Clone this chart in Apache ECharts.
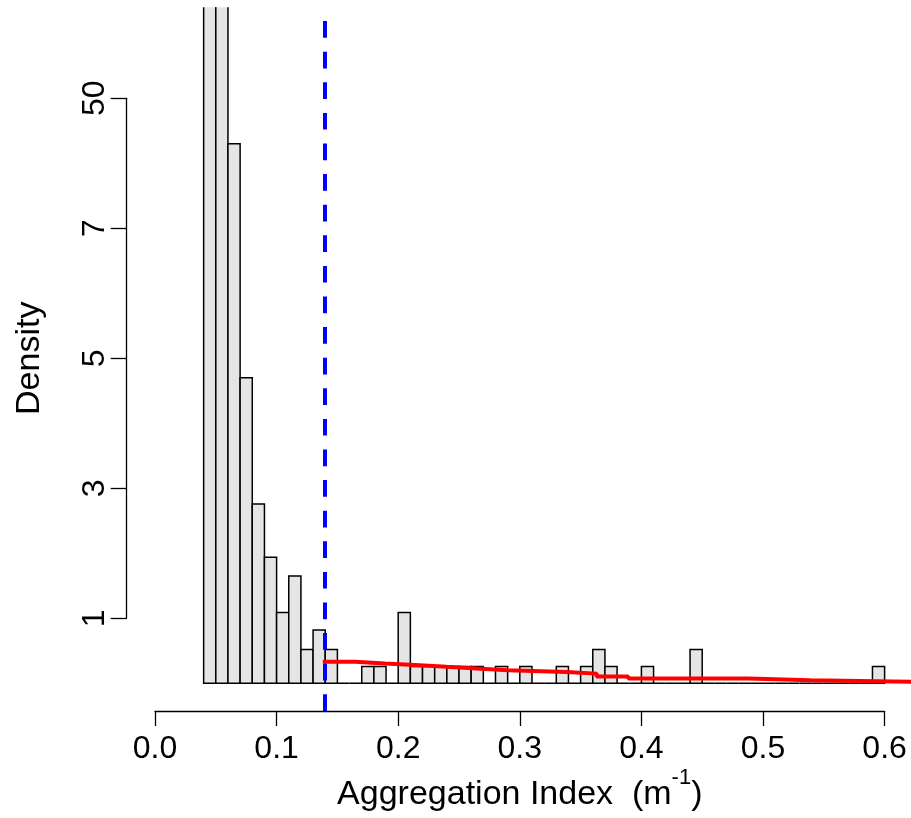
<!DOCTYPE html>
<html><head><meta charset="utf-8">
<script src="https://cdn.jsdelivr.net/npm/echarts@6/dist/echarts.min.js"></script>
<style>html,body{margin:0;padding:0;background:#fff}#c{width:911px;height:818px}</style>
</head><body><div id="c"></div>
<script>
// ---- data ----
const binWidth = 0.01;
const binStarts = [0.04,0.05,0.06,0.07,0.08,0.09,0.10,0.11,0.12,0.13,0.14,0.15,0.16,0.17,0.18,0.19,
  0.20,0.21,0.22,0.23,0.24,0.25,0.26,0.27,0.28,0.29,0.30,0.31,0.32,0.33,0.34,0.35,0.36,0.37,0.38,0.39,
  0.40,0.41,0.42,0.43,0.44,0.45,0.46,0.47,0.48,0.49,0.50,0.51,0.52,0.53,0.54,0.55,0.56,0.57,0.58,0.59];
// bar heights in (broken) axis units
const barHeights = [12,12,8.30,4.70,2.76,1.94,1.09,1.65,0.52,0.82,0.52,0,0,0.26,0.26,0,
  1.09,0.26,0.26,0.26,0.26,0.26,0.26,0,0.26,0,0.26,0,0,0.26,0,0.26,0.52,0.26,0,0,
  0.26,0,0,0,0.52,0,0,0,0,0,0,0,0,0,0,0,0,0,0,0.26];
// red step curve
const stepX = [0.138,0.1645,0.1891,0.2138,0.2399,0.2646,0.2903,0.3386,0.3632,0.3892,0.4879,0.5387,0.63];
const stepY = [0.332,0.305,0.282,0.254,0.228,0.202,0.174,0.149,0.105,0.074,0.046,0.020,0.020];
// threshold (blue dashed)
const thresholdX = 0.138;
// axes
const yTickValues = [1,3,5,7,9];
const yTickLabels = ['1','3','5','7','50'];
const xTickValues = [0,0.1,0.2,0.3,0.4,0.5,0.6];
const xTickLabels = ['0.0','0.1','0.2','0.3','0.4','0.5','0.6'];

const FONT = "'Liberation Sans', Arial, sans-serif";
const FS = 32;
const FS_TITLE = 34;

const barData = binStarts.map((s, i) => [s, +(s + binWidth).toFixed(4), barHeights[i]]);
const stepData = stepX.map((x, i) => [x, stepY[i]]);

const chart = echarts.init(document.getElementById('c'), null, {renderer: 'canvas'});
chart.setOption({
  animation: false,
  backgroundColor: '#ffffff',
  textStyle: {fontFamily: FONT, color: '#000'},
  grid: [
    {left: 155, right: 0, top: 7.3, bottom: 107, containLabel: false, outerBoundsMode: 'none'},
    {left: 126.7, width: 10, top: 98.3, height: 520, containLabel: false, outerBoundsMode: 'none'},
    {left: 155, width: 729.6, top: 650, bottom: 107, containLabel: false, outerBoundsMode: 'none'}
  ],
  xAxis: [
    {gridIndex: 0, type: 'value', min: 0, max: 0.6217, show: false},
    {gridIndex: 1, type: 'value', min: 0, max: 1, show: false},
    {gridIndex: 2, type: 'value', min: 0, max: 0.6, interval: 0.1,
      splitLine: {show: false},
      axisLine: {show: true, lineStyle: {color: '#000', width: 1.3}},
      axisTick: {show: true, length: 15, lineStyle: {color: '#000', width: 1.3}},
      axisLabel: {show: true, margin: 22, fontSize: FS, fontFamily: FONT, color: '#000',
        formatter: v => { const i = xTickValues.findIndex(t => Math.abs(t - v) < 1e-9); return i >= 0 ? xTickLabels[i] : ''; }},
      name: 'Aggregation Index  (m{sup|-1})',
      nameLocation: 'middle', nameGap: 56,
      nameTextStyle: {fontSize: FS_TITLE, fontFamily: FONT, color: '#000', lineHeight: 56,
        rich: {sup: {fontSize: 22, fontFamily: FONT, color: '#000', verticalAlign: 'top', lineHeight: 22}}}
    }
  ],
  yAxis: [
    {gridIndex: 0, type: 'value', min: -0.426, max: 10.4, show: false},
    {gridIndex: 1, type: 'value', min: 1, max: 9, interval: 2,
      splitLine: {show: false},
      axisLine: {show: true, lineStyle: {color: '#000', width: 1.3}},
      axisTick: {show: true, length: 16, lineStyle: {color: '#000', width: 1.3}},
      axisLabel: {show: true, rotate: 90, margin: 16, fontSize: FS, fontFamily: FONT, color: '#000',
        formatter: v => { const i = yTickValues.indexOf(v); return i >= 0 ? yTickLabels[i] : ''; }},
      name: 'Density', nameLocation: 'middle', nameGap: 80,
      nameTextStyle: {fontSize: FS_TITLE, fontFamily: FONT, color: '#000'}
    },
    {gridIndex: 2, type: 'value', min: 0, max: 1, show: false}
  ],
  series: [
    {
      type: 'custom', xAxisIndex: 0, yAxisIndex: 0, clip: true, silent: true,
      data: barData,
      encode: {x: [0, 1], y: 2},
      renderItem: function (params, api) {
        const p0 = api.coord([api.value(0), 0]);
        const p1 = api.coord([api.value(1), api.value(2)]);
        return {
          type: 'rect',
          shape: {x: p0[0], y: p1[1], width: p1[0] - p0[0], height: p0[1] - p1[1]},
          style: {fill: '#e5e5e5', stroke: '#000', lineWidth: 1.5}
        };
      },
      z: 2
    },
    {
      type: 'line', xAxisIndex: 0, yAxisIndex: 0, step: 'end', symbol: 'none', silent: true,
      data: stepData, clip: true,
      lineStyle: {color: '#ff0000', width: 4},
      z: 4,
      markLine: {
        silent: true, symbol: ['none', 'none'], label: {show: false},
        lineStyle: {color: '#0000ff', width: 4, type: [16.7, 13.9]},
        emphasis: {disabled: true},
        data: [{xAxis: thresholdX}],
        z: 3
      }
    }
  ]
});
</script>
</body></html>
